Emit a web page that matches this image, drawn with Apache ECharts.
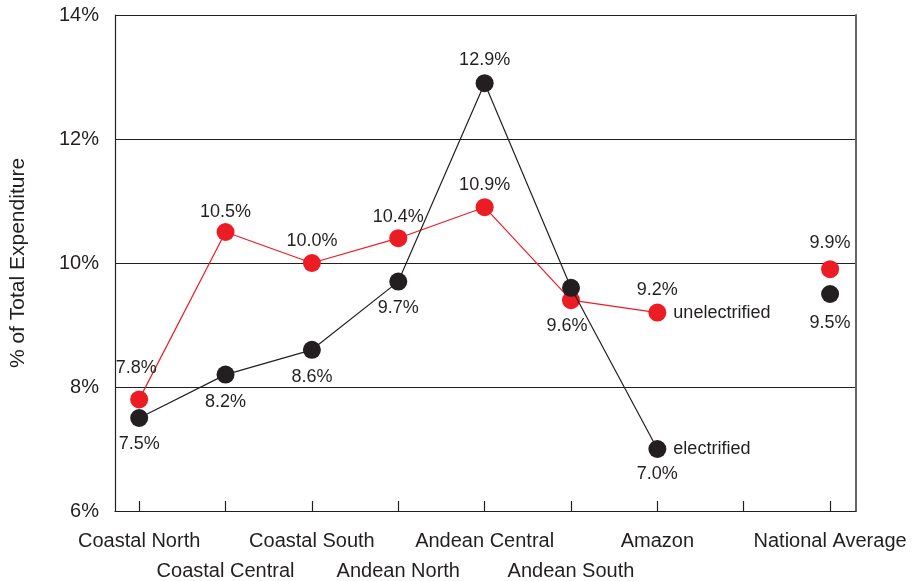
<!DOCTYPE html>
<html>
<head>
<meta charset="utf-8">
<script src="https://cdn.jsdelivr.net/npm/echarts@6/dist/echarts.min.js"></script>
<style>
html,body{margin:0;padding:0;background:#fff;}
#chart{width:912px;height:581px;}
</style>
</head>
<body>
<div id="chart"></div>
<script>
const categories = ['Coastal North','Coastal Central','Coastal South','Andean North','Andean Central','Andean South','Amazon','','National Average'];
const electrified = [7.5, 8.2, 8.6, 9.7, 12.9, 9.6, 7.0, null, 9.5];
const unelectrified = [7.8, 10.5, 10.0, 10.4, 10.9, 9.4, 9.2, null, 9.9];
const yTicks = [6, 8, 10, 12, 14];
const seriesNames = ['electrified', 'unelectrified'];
const seriesLabelIndex = 6; // Amazon

const TXT = '#231f20';
const RED = '#ec1c24';
const BLK = '#231f20';
const FONT = '"Liberation Sans", Arial, Helvetica, sans-serif';

// label placement per point (style only)
const blackLabel = [
  {position:'bottom', distance:8},
  {position:'bottom', distance:9},
  {position:'bottom', distance:9},
  {position:'bottom', distance:8},
  {position:'top', distance:5},
  {position:'bottom', distance:20, offset:[-4,0]},
  {position:'bottom', distance:7},
  null,
  {position:'bottom', distance:11}
];
const redLabel = [
  {position:'top', distance:13, offset:[-3,0]},
  {position:'top', distance:2},
  {position:'top', distance:4},
  {position:'top', distance:3},
  {position:'top', distance:4},
  {show:false},
  {position:'top', distance:5},
  null,
  {position:'top', distance:8}
];

function build(values, labels) {
  return values.map((v, i) => {
    if (v === null) return [i, '-'];
    const lab = Object.assign({show:true}, labels[i] || {});
    return {value:[i, v], label: lab};
  });
}

const tickIdx = categories.map((c, i) => i);
const evenIdx = tickIdx.filter(i => i % 2 === 0);
const oddIdx = tickIdx.filter(i => i % 2 === 1);

const xMin = -0.28, xMax = 8.3;

const chart = echarts.init(document.getElementById('chart'));
chart.setOption({
  animation: false,
  backgroundColor: '#fff',
  textStyle: {fontFamily: FONT, color: TXT},
  grid: {left:114, right:56, top:15, bottom:69, containLabel:false},
  xAxis: [{
    type: 'value', min: xMin, max: xMax, position: 'bottom',
    axisLine: {show:true, onZero:false, lineStyle:{color:BLK, width:1.2}},
    splitLine: {show:false},
    axisTick: {show:true, inside:true, length:10, customValues: tickIdx, lineStyle:{color:BLK, width:1.2}},
    axisLabel: {
      customValues: evenIdx,
      showMinLabel: true, showMaxLabel: true,
      fontSize: 20, color: TXT, fontFamily: FONT, margin: 20,
      formatter: v => categories[Math.round(v)]
    }
  }, {
    type: 'value', min: xMin, max: xMax, position: 'bottom',
    axisLine: {show:false, onZero:false},
    splitLine: {show:false},
    axisTick: {show:false},
    axisLabel: {
      customValues: oddIdx,
      showMinLabel: true, showMaxLabel: true,
      fontSize: 20, color: TXT, fontFamily: FONT, margin: 50,
      formatter: v => categories[Math.round(v)]
    }
  }],
  yAxis: [{
    type: 'value', min: yTicks[0], max: yTicks[yTicks.length-1], interval: 2,
    name: '% of Total Expenditure', nameLocation: 'middle', nameGap: 86,
    nameTextStyle: {fontSize: 21, color: TXT, fontFamily: FONT},
    axisLine: {show:true, onZero:false, lineStyle:{color:BLK, width:1.2}},
    axisTick: {show:false},
    axisLabel: {fontSize: 20, color: TXT, margin: 16, formatter: '{value}%', fontFamily: FONT},
    splitLine: {show:true, lineStyle:{color:BLK, width:1.2}}
  }, {
    type: 'value', min: yTicks[0], max: yTicks[yTicks.length-1], position: 'right',
    axisLine: {show:true, onZero:false, lineStyle:{color:'#666', width:2}},
    axisTick: {show:false}, axisLabel: {show:false}, splitLine: {show:false}
  }],
  series: [{
    name: seriesNames[1], type: 'line',
    data: build(unelectrified, redLabel),
    connectNulls: false,
    symbol: 'circle', symbolSize: 18,
    lineStyle: {color: RED, width: 1.2},
    itemStyle: {color: RED},
    label: {fontSize: 18, color: TXT, fontFamily: FONT, formatter: p => p.value[1].toFixed(1) + '%'},
    z: 2
  }, {
    name: seriesNames[0], type: 'line',
    data: build(electrified, blackLabel),
    connectNulls: false,
    symbol: 'circle', symbolSize: 18,
    lineStyle: {color: BLK, width: 1.2},
    itemStyle: {color: BLK},
    label: {fontSize: 18, color: TXT, fontFamily: FONT, formatter: p => p.value[1].toFixed(1) + '%'},
    z: 3
  }, {
    type: 'scatter', silent: true,
    data: [
      {value:[seriesLabelIndex, unelectrified[seriesLabelIndex]], name: seriesNames[1]},
      {value:[seriesLabelIndex, electrified[seriesLabelIndex]], name: seriesNames[0]}
    ],
    symbolSize: 18,
    itemStyle: {color: '#fff', opacity: 0},
    label: {show:true, position:'right', distance:7, fontSize:18, color:TXT, opacity:1, fontFamily:FONT, formatter: p => p.name},
    z: 1
  }]
});
</script>
</body>
</html>
